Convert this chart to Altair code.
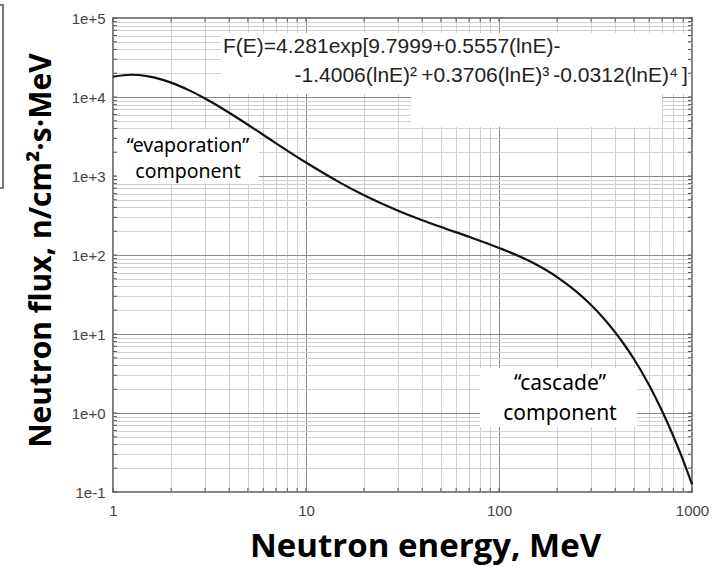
import altair as alt
import pandas as pd

# ---- data ----
energy_mev = [1, 1.25, 1.5, 2, 2.5, 3, 4, 5, 6, 7, 10, 15, 20, 30, 40, 50, 70, 100,
              150, 200, 250, 300, 350, 400, 450, 500, 600, 700, 800, 900, 1000]
flux = [18050, 19130, 18390, 15200, 12040, 9570, 6320, 4460, 3325, 2590, 1480, 825,
        570, 363, 275, 226, 170, 123, 79.6, 52.5, 34.9, 23.3, 15.6, 10.5, 7.1, 4.83,
        2.25, 1.06, 0.512, 0.251, 0.125]

x_grid = [1, 2, 3, 4, 5, 6, 7, 8, 9, 10, 20, 30, 40, 50, 60, 70, 80, 90,
          100, 200, 300, 400, 500, 600, 700, 800, 900, 1000]
y_grid = [m * 10.0 ** k for k in range(-1, 5) for m in range(1, 10)] + [1e5]

formula_line1 = "F(E)=4.281exp[9.7999+0.5557(lnE)-"
formula_line2 = "-1.4006(lnE)²\u2009+0.3706(lnE)³\u2009-0.0312(lnE)⁴\u2009]"
evap_label = "\u201cevaporation\u201d\ncomponent"
casc_label = "\u201ccascade\u201d\ncomponent"

x_title = "Neutron energy, MeV"
y_title = "Neutron flux, n/cm²·s·MeV"

# ---- annotation anchors (data coordinates) ----
boxes = pd.DataFrame({
    "E": [3.63, 35.0, 1.036, 79.7],
    "E2": [953, 699, 5.71, 519],
    "F": [10900, 4170, 800, 0.665],
    "F2": [64600, 10900, 3822, 3.71],
})
f1 = pd.DataFrame({"E": [3.715], "F": [36000], "t": [formula_line1]})
f2 = pd.DataFrame({"E": [953], "F": [15500], "t": [formula_line2]})
evap = pd.DataFrame({"E": [2.447], "F": [2000], "t": [evap_label]})
casc = pd.DataFrame({"E": [207], "F": [1.955], "t": [casc_label]})

curve_df = pd.DataFrame({"E": energy_mev, "F": flux})
xt_df = pd.DataFrame({"E": x_grid})
yt_df = pd.DataFrame({"F": y_grid})

xs = alt.Scale(type="log", domain=[1, 1000], nice=False)
ys = alt.Scale(type="log", domain=[0.1, 100000], nice=False)

DEC = "abs(log(datum.value)/LN10 - round(log(datum.value)/LN10)) < 0.0001"
grid_color = {"condition": {"test": DEC, "value": "#8a8a8a"}, "value": "#d0d0d0"}

x_axis = alt.Axis(
    values=x_grid, grid=True, gridColor=grid_color, gridWidth=1,
    ticks=False, domain=False, labelOverlap=False, labelFlush=False,
    labelExpr=f"({DEC}) ? format(datum.value, 'd') : ''",
    labelFont="Liberation Sans", labelFontSize=15, labelColor="#444", labelPadding=11,
    title=x_title, titleFont="Open Sans", titleFontSize=33, titleFontWeight="bold",
    titleColor="black", titleX=312, titleY=64, titleAlign="center",
    titleBaseline="alphabetic",
)
y_axis = alt.Axis(
    values=y_grid, grid=True, gridColor=grid_color, gridWidth=1,
    ticks=False, domain=False, labelOverlap=False, labelFlush=False,
    labelExpr=f"({DEC}) ? format(datum.value, '.0e') : ''",
    labelFont="Liberation Sans", labelFontSize=15, labelColor="#444", labelPadding=8,
    title=y_title, titleFont="Open Sans", titleFontSize=30, titleFontWeight="bold",
    titleColor="black", titleAngle=270, titleX=-63, titleY=232, titleAlign="center",
    titleBaseline="alphabetic",
)

X = alt.X("E:Q", scale=xs, axis=x_axis)
Y = alt.Y("F:Q", scale=ys, axis=y_axis)

W, H = 579, 474

rects = alt.Chart(boxes).mark_rect(color="white").encode(x=X, x2="E2:Q", y=Y, y2="F2:Q")

tick_style = dict(color="#555", strokeWidth=1)
t_bottom = alt.Chart(xt_df).mark_rule(**tick_style).encode(x=X, y=alt.value(H), y2=alt.value(H - 4))
t_top = alt.Chart(xt_df).mark_rule(**tick_style).encode(x=X, y=alt.value(0), y2=alt.value(4))
t_left = alt.Chart(yt_df).mark_rule(**tick_style).encode(y=Y, x=alt.value(0), x2=alt.value(4))
t_right = alt.Chart(yt_df).mark_rule(**tick_style).encode(y=Y, x=alt.value(W), x2=alt.value(W - 4))

frame_deco = alt.Chart(f1).mark_rect(fillOpacity=0, stroke="#777", strokeWidth=2).encode(
    x=alt.value(-200), x2=alt.value(-110), y=alt.value(-13), y2=alt.value(170))

txt1 = alt.Chart(f1).mark_text(
    align="left", baseline="alphabetic", font="Liberation Sans", fontSize=21, color="#222"
).encode(x=X, y=Y, text="t:N")
txt2 = alt.Chart(f2).mark_text(
    align="right", baseline="alphabetic", font="Liberation Sans", fontSize=21, color="#222"
).encode(x=X, y=Y, text="t:N")
txt_evap = alt.Chart(evap).mark_text(
    align="center", baseline="alphabetic", font="Noto Sans", fontSize=19.5, color="#000",
    lineBreak="\n", lineHeight=26,
).encode(x=X, y=Y, text="t:N")
txt_casc = alt.Chart(casc).mark_text(
    align="center", baseline="alphabetic", font="Noto Sans", fontSize=21, color="#000",
    lineBreak="\n", lineHeight=30,
).encode(x=X, y=Y, text="t:N")

curve = alt.Chart(curve_df).mark_line(color="#111", strokeWidth=2.2, interpolate="monotone").encode(x=X, y=Y)

chart = alt.layer(
    rects, t_bottom, t_top, t_left, t_right, frame_deco, txt1, txt2, txt_evap, txt_casc, curve,
).properties(
    width=W, height=H,
    autosize=alt.AutoSizeParams(type="none"),
    padding={"left": 113, "top": 18, "right": 20, "bottom": 75},
    background="white",
).configure_view(stroke="#555", strokeWidth=1.5)

chart.save("out.html", embed_options={"renderer": "svg", "actions": False})
